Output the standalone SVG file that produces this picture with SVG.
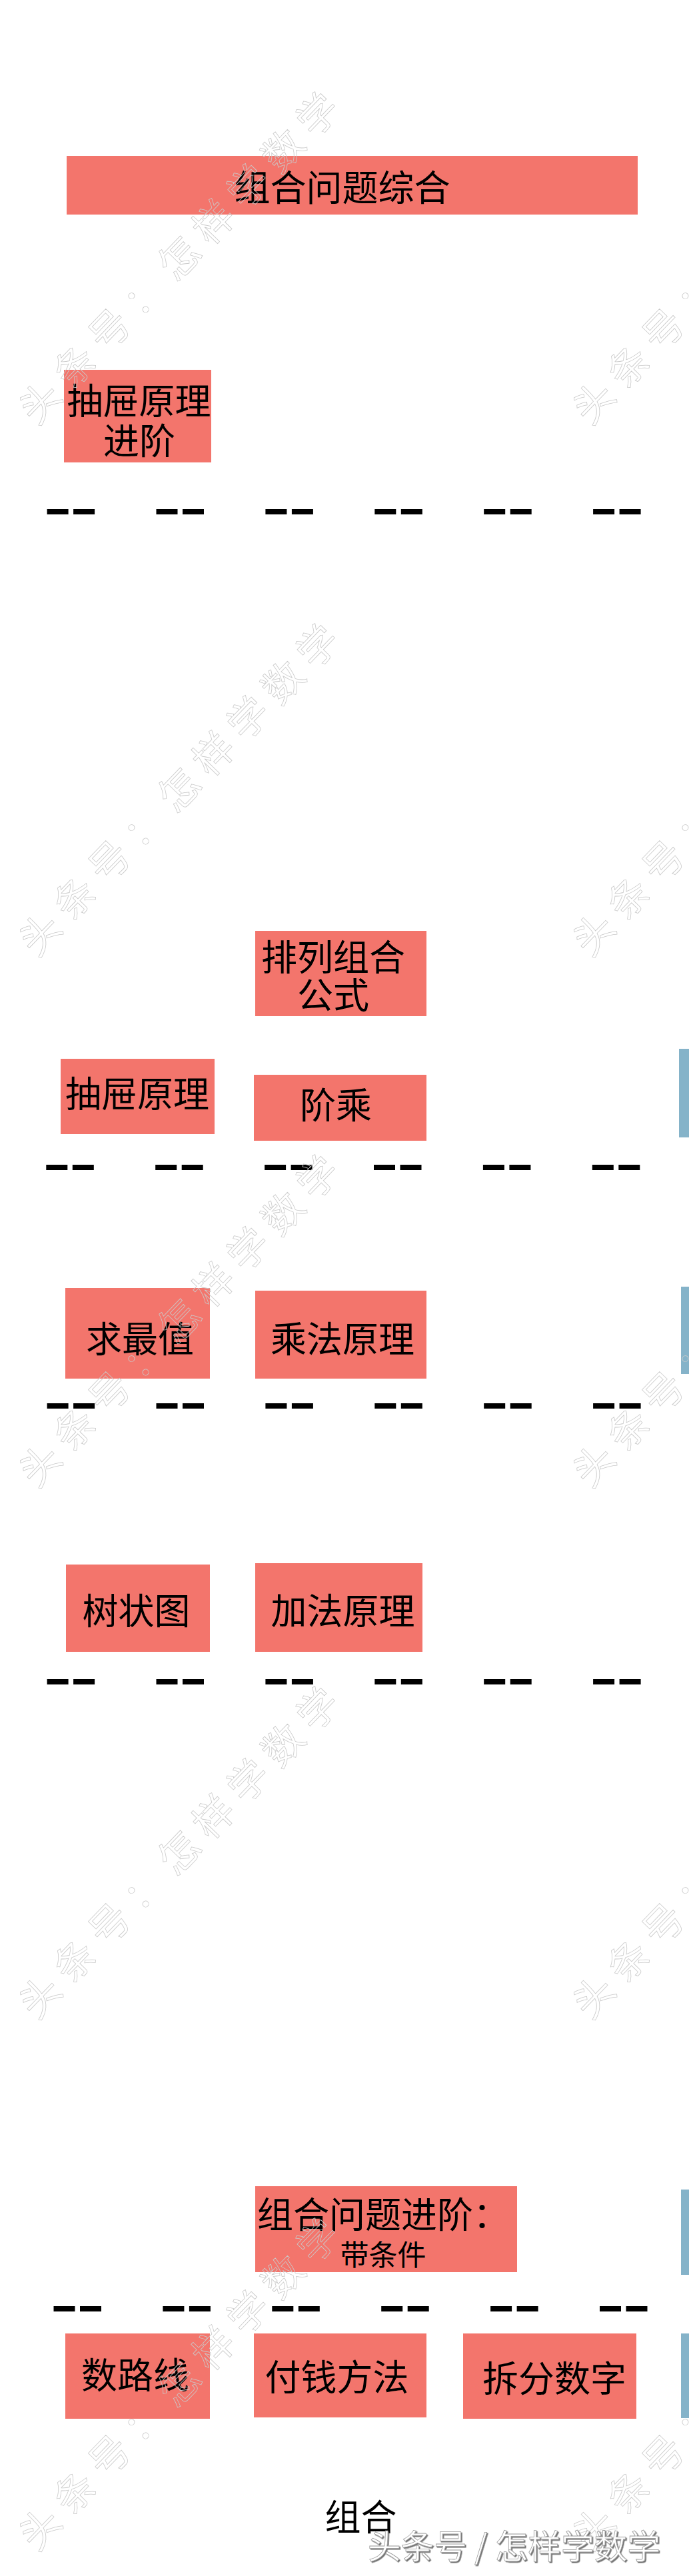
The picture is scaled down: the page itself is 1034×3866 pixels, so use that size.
<svg xmlns="http://www.w3.org/2000/svg" width="1034" height="3866" viewBox="0 0 1034 3866">
<style>
.box{fill:#F3756C}
.bar{fill:#85B3C9}
.t{font-family:"Noto Sans CJK SC","Noto Sans CJK JP",sans-serif;font-size:54px;fill:#000;text-anchor:middle}
.ts{font-size:43px}
.d{fill:#000}
.wm{font-family:"Noto Sans CJK SC","Noto Sans CJK JP",sans-serif;font-size:60px;letter-spacing:15px;fill:none;stroke:#cacaca;stroke-width:0.8}
.brand{font-family:"Noto Sans CJK SC","Noto Sans CJK JP",sans-serif;font-size:50px;fill:#fff;stroke:#9a9a9a;stroke-width:0.8}
</style>
<defs>
<filter id="sh" x="-5%" y="-20%" width="110%" height="140%">
<feDropShadow dx="1.6" dy="1.6" stdDeviation="0.6" flood-color="#555" flood-opacity="0.85"/>
</filter>
<g id="dashpair"><rect class="d" x="0" y="0" width="32" height="8"/><rect class="d" x="39.5" y="0" width="32" height="8"/></g>
<g id="dashrow">
<use href="#dashpair" x="0"/><use href="#dashpair" x="163.9"/><use href="#dashpair" x="327.8"/><use href="#dashpair" x="491.7"/><use href="#dashpair" x="655.6"/><use href="#dashpair" x="819.5"/>
</g>
</defs>
<rect x="0" y="0" width="1034" height="3866" fill="#fff"/>

<g id="n-title"><rect class="box" x="100" y="234" width="857" height="88"/><text class="t" x="513.5" y="302">组合问题综合</text></g>
<g id="n-chouti-jinjie"><rect class="box" x="96" y="555" width="221" height="139"/><text class="t" x="208.5" y="621.5">抽屉原理</text><text class="t" x="209" y="681.5">进阶</text></g>
<g id="n-pailie"><rect class="box" x="383" y="1397" width="257" height="128"/><text class="t" x="500" y="1456.5">排列组合</text><text class="t" x="500" y="1513.5">公式</text></g>
<g id="n-chouti"><rect class="box" x="91" y="1589" width="231" height="113"/><text class="t" x="206" y="1662">抽屉原理</text></g>
<g id="n-jiecheng"><rect class="box" x="381" y="1613" width="259" height="99"/><text class="t" x="504" y="1679">阶乘</text></g>
<g id="n-qiuzuizhi"><rect class="box" x="98" y="1933" width="217" height="136"/><text class="t" x="210" y="2029.5">求最值</text></g>
<g id="n-chengfa"><rect class="box" x="383" y="1937" width="257" height="132"/><text class="t" x="514" y="2030">乘法原理</text></g>
<g id="n-shuzhuangtu"><rect class="box" x="99" y="2348" width="216" height="131"/><text class="t" x="204.5" y="2438">树状图</text></g>
<g id="n-jiafa"><rect class="box" x="383" y="2346" width="251" height="133"/><text class="t" x="514.5" y="2437.5">加法原理</text></g>
<g id="n-jinjie"><rect class="box" x="383" y="3281" width="393" height="129"/><text class="t" x="575" y="3344">组合问题进阶：</text><text class="t ts" x="575" y="3399.5">带条件</text></g>
<g id="n-shuluxian"><rect class="box" x="98" y="3502" width="217" height="128"/><text class="t" x="203" y="3584.5">数路线</text></g>
<g id="n-fuqian"><rect class="box" x="381" y="3502" width="259" height="126"/><text class="t" x="505.6" y="3587.5">付钱方法</text></g>
<g id="n-chaifen"><rect class="box" x="695" y="3502" width="260" height="128"/><text class="t" x="832" y="3589.5">拆分数字</text></g>
<g id="n-zuhe"><text class="t" x="541.5" y="3798">组合</text></g>

<g id="side-bars">
<rect class="bar" x="1019" y="1574" width="15" height="133"/>
<rect class="bar" x="1022" y="1931" width="12" height="131"/>
<rect class="bar" x="1022" y="3286" width="12" height="128"/>
<rect class="bar" x="1022" y="3502" width="12" height="127"/>
</g>

<g id="connectors">
<use href="#dashrow" x="70.6" y="764"/>
<use href="#dashrow" x="69.3" y="1748"/>
<use href="#dashrow" x="70.6" y="2106"/>
<use href="#dashrow" x="70.6" y="2520"/>
<use href="#dashrow" x="80.5" y="3461"/>
</g>

<g id="watermarks">
<text class="wm" transform="translate(55 640) rotate(-46)">头条号：怎样学数学</text>
<text class="wm" transform="translate(55 1438) rotate(-46)">头条号：怎样学数学</text>
<text class="wm" transform="translate(55 2235) rotate(-46)">头条号：怎样学数学</text>
<text class="wm" transform="translate(55 3033) rotate(-46)">头条号：怎样学数学</text>
<text class="wm" transform="translate(55 3831) rotate(-46)">头条号：怎样学数学</text>
<text class="wm" transform="translate(886 640) rotate(-46)">头条号：怎样学数学</text>
<text class="wm" transform="translate(886 1438) rotate(-46)">头条号：怎样学数学</text>
<text class="wm" transform="translate(886 2235) rotate(-46)">头条号：怎样学数学</text>
<text class="wm" transform="translate(886 3033) rotate(-46)">头条号：怎样学数学</text>
<text class="wm" transform="translate(886 3831) rotate(-46)">头条号：怎样学数学</text>
</g>

<g id="brand"><text class="brand" x="552" y="3840" textLength="439" lengthAdjust="spacingAndGlyphs" filter="url(#sh)">头条号 / 怎样学数学</text></g>
</svg>
